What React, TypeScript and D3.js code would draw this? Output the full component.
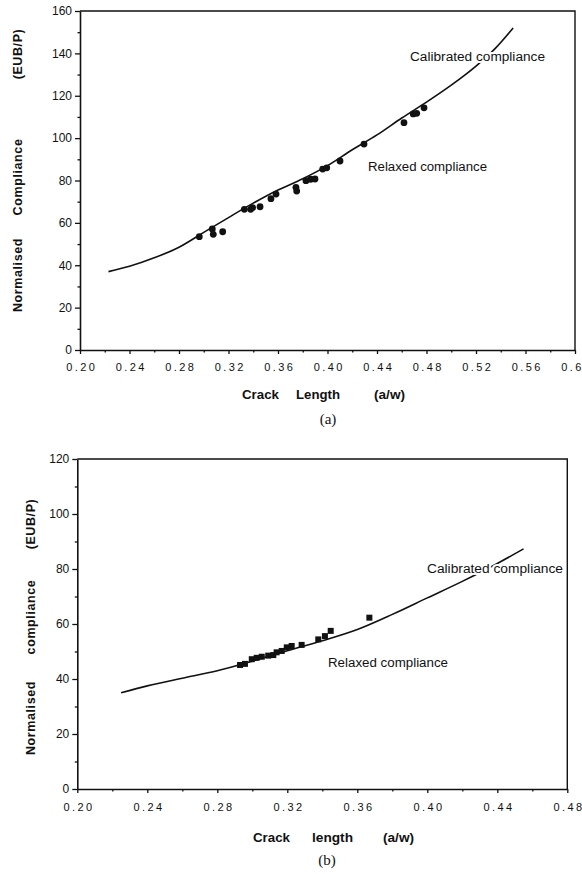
import React, { useEffect, useRef } from 'react';
import * as d3 from 'd3';

// ---- panel (a) ----
const aCurveX = [0.223, 0.24, 0.26, 0.28, 0.30, 0.32, 0.34, 0.36, 0.38, 0.40, 0.42, 0.44, 0.46, 0.48, 0.50, 0.52, 0.535, 0.550];
const aCurveY = [37, 39.5, 43.5, 48.5, 55.5, 62.5, 69.3, 75.5, 80.8, 87, 94.5, 101.5, 109.5, 117, 125, 134, 142, 152];
const aPointX = [0.2964, 0.3069, 0.3077, 0.3153, 0.3328, 0.3379, 0.3395, 0.3455, 0.3543, 0.3584, 0.3745, 0.3751, 0.3826, 0.3864, 0.3899, 0.3961, 0.3994, 0.4101, 0.4295, 0.4618, 0.4693, 0.4721, 0.478];
const aPointY = [53.5, 57.1, 54.6, 55.8, 66.4, 66.4, 67.2, 67.6, 71.4, 73.6, 76.8, 75, 79.9, 80.6, 80.7, 85.4, 86, 89.2, 97.2, 107.3, 111.4, 111.7, 114.3];
const aXTicks = [0.20, 0.24, 0.28, 0.32, 0.36, 0.40, 0.44, 0.48, 0.52, 0.56, 0.60];
const aXMinor = [0.22, 0.26, 0.30, 0.34, 0.38, 0.42, 0.46, 0.50, 0.54, 0.58];
const aYTicks = [0, 20, 40, 60, 80, 100, 120, 140, 160];
const aYMinor = [10, 30, 50, 70, 90, 110, 130, 150];

// ---- panel (b) ----
const bCurveX = [0.225, 0.24, 0.26, 0.28, 0.30, 0.32, 0.34, 0.36, 0.38, 0.40, 0.42, 0.44, 0.455];
const bCurveY = [35, 37.5, 40.3, 43, 46.5, 50.3, 53.9, 58, 63.5, 69.5, 75.5, 82, 87.3];
const bPointX = [0.293, 0.2958, 0.2997, 0.3025, 0.3054, 0.3091, 0.312, 0.3139, 0.3168, 0.3197, 0.3225, 0.3282, 0.3377, 0.3415, 0.3448, 0.3669];
const bPointY = [45.1, 45.5, 47.2, 47.7, 48.1, 48.5, 48.7, 49.7, 50.2, 51.5, 52, 52.4, 54.4, 55.6, 57.5, 62.3];
const bXTicks = [0.20, 0.24, 0.28, 0.32, 0.36, 0.40, 0.44, 0.48];
const bXMinor = [0.22, 0.26, 0.30, 0.34, 0.38, 0.42, 0.46];
const bYTicks = [0, 20, 40, 60, 80, 100, 120];
const bYMinor = [10, 30, 50, 70, 90, 110];

const SANS = "'Liberation Sans', Arial, Helvetica, sans-serif";

const drawPanel = (svg, p) => {
  const x = d3.scaleLinear().domain(p.xDomain).range([p.left, p.right]);
  const y = d3.scaleLinear().domain(p.yDomain).range([p.bottom, p.top]);
  const g = svg.append("g");

  // frame (top and right)
  g.append("path")
    .attr("d", `M${p.left},${p.top}H${p.right}V${p.bottom}`)
    .attr("fill", "none")
    .attr("stroke", "#111")
    .attr("stroke-width", 1.4);

  // x axis
  const xAxis = g.append("g")
    .attr("transform", `translate(0,${p.bottom})`)
    .call(d3.axisBottom(x).tickValues(p.xTicks).tickSize(4).tickSizeOuter(0).tickPadding(p.xPad).tickFormat(d3.format(".2f")));
  g.append("g")
    .attr("transform", `translate(0,${p.bottom})`)
    .call(d3.axisBottom(x).tickValues(p.xMinor).tickSize(2.5).tickSizeOuter(0).tickFormat(() => ""))
    .select(".domain").remove();
  xAxis.selectAll("text")
    .attr("font-family", SANS)
    .attr("font-size", 11)
    .attr("letter-spacing", 2.4)
    .attr("dx", 1.2)
    .attr("fill", "#111");

  // y axis
  const yAxis = g.append("g")
    .attr("transform", `translate(${p.left},0)`)
    .call(d3.axisLeft(y).tickValues(p.yTicks).tickSize(5).tickSizeOuter(0).tickPadding(3));
  g.append("g")
    .attr("transform", `translate(${p.left},0)`)
    .call(d3.axisLeft(y).tickValues(p.yMinor).tickSize(2.5).tickSizeOuter(0).tickFormat(() => ""))
    .select(".domain").remove();
  yAxis.selectAll("text")
    .attr("font-family", SANS)
    .attr("font-size", 12)
    .attr("fill", "#111");

  [xAxis, yAxis].forEach(a => {
    a.select(".domain").attr("stroke", "#111").attr("stroke-width", 1.6);
    a.selectAll(".tick line").attr("stroke", "#111").attr("stroke-width", 1.3);
  });
  g.selectAll(".tick line").attr("stroke", "#111").attr("stroke-width", 1.3);

  // calibrated curve
  const curve = p.curveX.map((v, i) => [v, p.curveY[i]]);
  g.append("path")
    .datum(curve)
    .attr("fill", "none")
    .attr("stroke", "#111")
    .attr("stroke-width", 1.6)
    .attr("d", d3.line().x(d => x(d[0])).y(d => y(d[1])).curve(d3.curveMonotoneX));

  // relaxed points
  const pts = p.pointX.map((v, i) => [v, p.pointY[i]]);
  if (p.marker === "circle") {
    g.selectAll(".pt").data(pts).enter().append("circle")
      .attr("cx", d => x(d[0]))
      .attr("cy", d => y(d[1]))
      .attr("r", 3.4)
      .attr("fill", "#111");
  } else {
    const s = 6;
    g.selectAll(".pt").data(pts).enter().append("rect")
      .attr("x", d => x(d[0]) - s / 2)
      .attr("y", d => y(d[1]) - s / 2)
      .attr("width", s)
      .attr("height", s)
      .attr("fill", "#111");
  }

  // annotations
  p.notes.forEach(n => {
    g.append("text")
      .attr("x", n.x).attr("y", n.y)
      .attr("textLength", n.w).attr("lengthAdjust", "spacingAndGlyphs")
      .attr("font-family", SANS).attr("font-size", 12.5)
      .attr("fill", "#111")
      .attr("stroke", "#fff").attr("stroke-width", 4).attr("paint-order", "stroke")
      .text(n.t);
  });

  // x title
  p.xTitle.forEach(w => {
    g.append("text")
      .attr("x", w.x).attr("y", p.xTitleY)
      .attr("textLength", w.w).attr("lengthAdjust", "spacingAndGlyphs")
      .attr("font-family", SANS).attr("font-size", 12.5).attr("font-weight", "bold")
      .attr("fill", "#111")
      .text(w.t);
  });

  // y title (rotated)
  p.yTitle.forEach(w => {
    g.append("text")
      .attr("transform", `translate(${p.yTitleX},${w.c}) rotate(-90)`)
      .attr("text-anchor", "middle")
      .attr("font-family", SANS).attr("font-size", 12.5).attr("font-weight", "bold")
      .attr("letter-spacing", 0.6)
      .attr("fill", "#111")
      .text(w.t);
  });

  // panel caption
  g.append("text")
    .attr("x", p.capX).attr("y", p.capY)
    .attr("text-anchor", "middle")
    .attr("font-family", "'Liberation Serif', 'Times New Roman', serif")
    .attr("font-size", 15)
    .attr("fill", "#111")
    .text(p.caption);
};

const App = () => {
  const ref = useRef(null);

  useEffect(() => {
    drawChart();
  }, []);

  const drawChart = () => {
    const svg = d3.select(ref.current);
    svg.selectAll("*").remove();

    drawPanel(svg, {
      left: 80, right: 575, top: 11, bottom: 350,
      xDomain: [0.2, 0.6], yDomain: [0, 160],
      xTicks: aXTicks, xMinor: aXMinor, yTicks: aYTicks, yMinor: aYMinor,
      xPad: 9,
      curveX: aCurveX, curveY: aCurveY,
      pointX: aPointX, pointY: aPointY, marker: "circle",
      notes: [
        { t: "Calibrated compliance", x: 410, y: 61, w: 135 },
        { t: "Relaxed compliance", x: 368, y: 171, w: 119 },
      ],
      xTitle: [
        { t: "Crack", x: 242, w: 37 },
        { t: "Length", x: 296, w: 44 },
        { t: "(a/w)", x: 374, w: 31 },
      ],
      xTitleY: 399,
      yTitle: [
        { t: "Normalised", c: 275 },
        { t: "Compliance", c: 177 },
        { t: "(EUB/P)", c: 54 },
      ],
      yTitleX: 22,
      caption: "(a)", capX: 328, capY: 424,
    });

    drawPanel(svg, {
      left: 77.3, right: 567.3, top: 459, bottom: 789,
      xDomain: [0.2, 0.48], yDomain: [0, 120],
      xTicks: bXTicks, xMinor: bXMinor, yTicks: bYTicks, yMinor: bYMinor,
      xPad: 10,
      curveX: bCurveX, curveY: bCurveY,
      pointX: bPointX, pointY: bPointY, marker: "square",
      notes: [
        { t: "Calibrated compliance", x: 427, y: 573, w: 136 },
        { t: "Relaxed compliance", x: 328, y: 667, w: 120 },
      ],
      xTitle: [
        { t: "Crack", x: 253, w: 37 },
        { t: "length", x: 312, w: 41 },
        { t: "(a/w)", x: 383, w: 31 },
      ],
      xTitleY: 842,
      yTitle: [
        { t: "Normalised", c: 718 },
        { t: "compliance", c: 617 },
        { t: "(EUB/P)", c: 524 },
      ],
      yTitleX: 35,
      caption: "(b)", capX: 327, capY: 865,
    });
  };

  return (
    <svg
      ref={ref}
      width={582}
      height={874}
      style={{ position: "absolute", left: 0, top: 0, background: "#fff" }}
    />
  );
};

export default App;
